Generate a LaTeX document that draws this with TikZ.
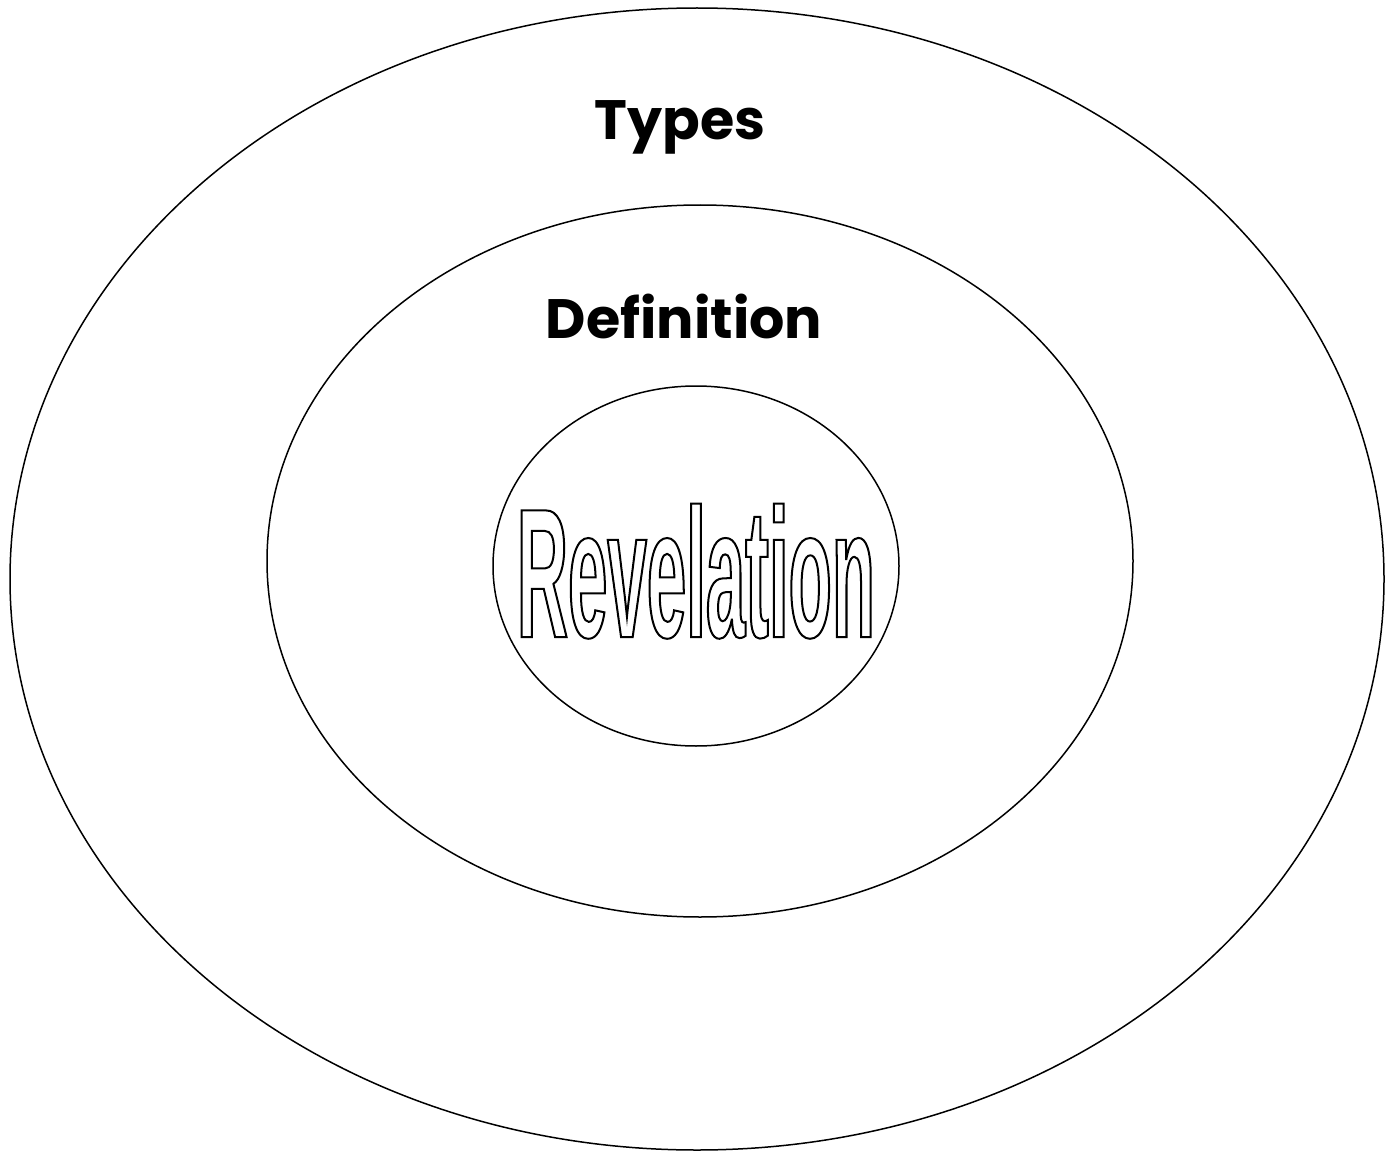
\documentclass[tikz,border=0pt]{standalone}
\usepackage{fontspec}
\newfontfamily\labelfont{Poppins}[BoldFont={* Bold}]
\font\revf="Liberation Sans/B:extend=0.385" at 184pt
\tikzset{
  ring/.style={draw=black, line width=1.5pt},
  lab/.style={font=\labelfont\bfseries\fontsize{55.5}{66}\selectfont, anchor=base, inner sep=0pt},
  rev/.style={font=\revf, anchor=base, inner sep=0pt}
}
\begin{document}
\begin{tikzpicture}[x=1pt,y=-1pt]
\useasboundingbox (0,0) rectangle (1393,1153);
\fill[white] (0,0) rectangle (1393,1153);
\draw[ring] (697,579) ellipse [x radius=687, y radius=571];
\draw[ring] (700,561) ellipse [x radius=433, y radius=356];
\draw[ring] (696,566) ellipse [x radius=203, y radius=180];
\node[lab] (types) at (680,140) {Types};
\node[lab] (def) at (684,338) {Definition};
\node[rev] (rev) at (696,637) {\special{pdf:literal direct 1 Tr 2 w}Revelation\special{pdf:literal direct 0 Tr}};
\end{tikzpicture}
\end{document}
